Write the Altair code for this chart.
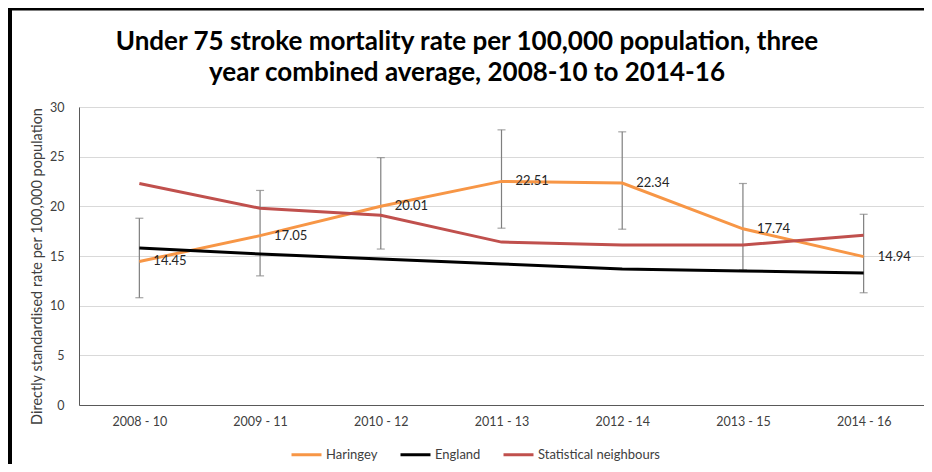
import altair as alt
import pandas as pd

periods = ["2008 - 10", "2009 - 11", "2010 - 12", "2011 - 13", "2012 - 14", "2013 - 15", "2014 - 16"]
haringey = [14.45, 17.05, 20.01, 22.51, 22.34, 17.74, 14.94]
england = [15.8, 15.2, 14.7, 14.2, 13.7, 13.5, 13.3]
neighbours = [22.3, 19.8, 19.1, 16.4, 16.1, 16.1, 17.1]
ci_low = [10.8, 13.0, 15.7, 17.8, 17.7, 13.6, 11.3]
ci_high = [18.8, 21.6, 24.9, 27.7, 27.5, 22.3, 19.2]
series_names = ["Haringey", "England", "Statistical neighbours"]
series_colors = ["#F79646", "#000000", "#C0504D"]

FONT = "Lato"
YTITLE = "Directly standardised rate per 100,000 population"

rows = []
for name, vals in zip(series_names, [haringey, england, neighbours]):
    for p, v in zip(periods, vals):
        rows.append({"period": p, "series": name, "value": v})
df = pd.DataFrame(rows)
ci = pd.DataFrame({"period": periods, "lo": ci_low, "hi": ci_high})
lab = pd.DataFrame({"period": periods, "value": haringey,
                    "label": [f"{v:.2f}" for v in haringey]})
one = pd.DataFrame({"a": [0]})

xaxis = alt.Axis(labelAngle=0, labelAlign="center", labelBaseline="top",
                 labelPadding=10, ticks=False, domainColor="#595959",
                 labelColor="#404040", labelFontSize=12.5, labelFont=FONT, grid=False)
yaxis = alt.Axis(values=[0, 5, 10, 15, 20, 25, 30], ticks=False,
                 labelPadding=15, domainColor="#595959", labelAlign="right",
                 labelBaseline="middle",
                 gridColor="#D9D9D9", labelColor="#404040",
                 labelFontSize=12.5, labelFont=FONT,
                 titleFont=FONT, titleFontSize=14.5, titleY=159,
                 titleFontWeight="normal", titleColor="#404040",
                 titlePadding=5)


def X():
    return alt.X("period:N", sort=periods, title=None,
                 scale=alt.Scale(type="point", padding=0.5), axis=xaxis)


def Y(field):
    return alt.Y(field, title=YTITLE, scale=alt.Scale(domain=[0, 30], nice=False),
                 axis=yaxis)


lines = alt.Chart(df).mark_line(strokeWidth=3).encode(
    x=X(),
    y=Y("value:Q"),
    color=alt.Color("series:N",
                    scale=alt.Scale(domain=series_names, range=series_colors),
                    legend=alt.Legend(title=None, orient="none", direction="horizontal",
                                      legendX=211, legendY=331,
                                      symbolType="M-1,0H1", symbolSize=900,
                                      symbolStrokeWidth=3, labelFont=FONT,
                                      labelFontSize=13, labelColor="#404040",
                                      labelOffset=3, columnPadding=16)),
    order=alt.Order("series:N"),
)

err = alt.Chart(ci).mark_rule(color="#7F7F7F", strokeWidth=1.2).encode(
    x=X(), y=Y("lo:Q"), y2="hi:Q")
cap_lo = alt.Chart(ci).mark_tick(color="#7F7F7F", thickness=1.2, size=8).encode(
    x=X(), y=Y("lo:Q"))
cap_hi = alt.Chart(ci).mark_tick(color="#7F7F7F", thickness=1.2, size=8).encode(
    x=X(), y=Y("hi:Q"))

labels = alt.Chart(lab).mark_text(align="left", baseline="middle", dx=14,
                                  font=FONT, fontSize=13, color="#262626").encode(
    x=X(), y=Y("value:Q"), text="label:N")

top_border = alt.Chart(one).mark_rule(color="black", strokeWidth=3).encode(
    x=alt.value(-71), x2=alt.value(845), y=alt.value(-98))
left_border = alt.Chart(one).mark_rule(color="black", strokeWidth=4).encode(
    x=alt.value(-69), y=alt.value(-99), y2=alt.value(365))

chart = alt.layer(err, cap_lo, cap_hi, lines, labels, top_border, left_border).properties(
    width=845, height=298,
    padding={"left": 71, "top": 99, "right": 0, "bottom": 59},
    autosize=alt.AutoSizeParams(type="none"),
    title=alt.Title(["Under 75 stroke mortality rate per 100,000 population, three",
                     "year combined average, 2008-10 to 2014-16"],
                    font=FONT, fontSize=26, fontWeight="bold", color="black",
                    anchor="middle", frame="bounds", dx=1, offset=-80, lineHeight=31),
).configure_view(stroke=None).configure(background="white")

chart.save("out.html", embed_options={"renderer": "svg", "actions": False})
